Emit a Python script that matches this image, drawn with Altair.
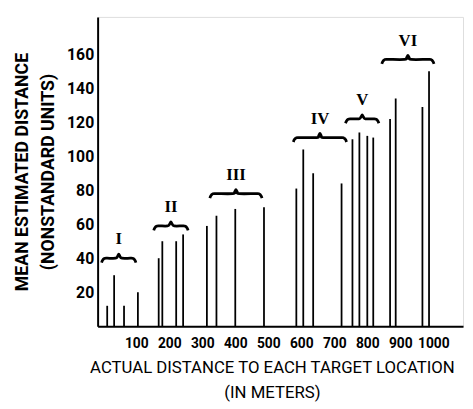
import altair as alt
import pandas as pd

# --- data ---
bar_x = [12, 33, 63, 105, 168, 179, 221, 242, 314, 343, 400, 487,
         585, 606, 636, 722, 755, 776, 800, 818, 869, 886, 967, 987]
bar_y = [12, 30, 12, 20, 40, 50, 50, 54, 59, 65, 69, 70,
         81, 104, 90, 84, 110, 114, 112, 111, 122, 134, 129, 150]

group_labels = ["I", "II", "III", "IV", "V", "VI"]
brace_start = [-5, 153, 323, 576, 734, 844]
brace_end = [99, 257, 481, 737, 835, 1002]
brace_level = [40, 59, 78, 111, 122, 157]

x_ticks = [100, 200, 300, 400, 500, 600, 700, 800, 900, 1000]
y_ticks = [20, 40, 60, 80, 100, 120, 140, 160]

bars = pd.DataFrame({"x": bar_x, "y": bar_y})

# brace outline built from the group ranges
rows = []
for g, x0, x1, yb in zip(group_labels, brace_start, brace_end, brace_level):
    xm = (x0 + x1) / 2
    pts = [(x0, yb - 2.6), (x0 + 3, yb - 1.2), (x0 + 8, yb - 0.2), (x0 + 16, yb),
           (xm - 10, yb), (xm - 4, yb + 1.0), (xm, yb + 2.4),
           (xm + 4, yb + 1.0), (xm + 10, yb),
           (x1 - 16, yb), (x1 - 8, yb - 0.2), (x1 - 3, yb - 1.2), (x1, yb - 2.6)]
    for i, (px, py) in enumerate(pts):
        rows.append({"g": g, "i": i, "x": px, "y": py})
braces = pd.DataFrame(rows)
labels = pd.DataFrame({"g": group_labels,
                       "x": [(a + b) / 2 for a, b in zip(brace_start, brace_end)],
                       "y": brace_level})

SANS = "Roboto, DejaVu Sans, sans-serif"

xscale = alt.Scale(domain=[-17, 1090], nice=False, zero=False)
yscale = alt.Scale(domain=[0, 182], nice=False)

rules = alt.Chart(bars).mark_rule(color="black", strokeWidth=1.8).encode(
    x=alt.X("x:Q", scale=xscale,
            axis=alt.Axis(values=x_ticks, format="d",
                          title=["ACTUAL DISTANCE TO EACH TARGET LOCATION", "(IN METERS)"],
                          grid=False, ticks=False, domainColor="black", domainWidth=2,
                          labelFont=SANS, labelFontSize=14, labelColor="black", labelPadding=11,
                          labelFontWeight="bold",
                          titleFont=SANS, titleFontSize=17, titleFontWeight="normal",
                          titleColor="black", titlePadding=9, titleLineHeight=25,
                          titleX=177,
                          labelOverlap=False, labelFlush=False)),
    y=alt.Y("y:Q", scale=yscale,
            axis=alt.Axis(values=y_ticks, title=["MEAN ESTIMATED DISTANCE", "(NONSTANDARD UNITS)"],
                          grid=False, ticks=False, domainColor="black", domainWidth=2,
                          labelFont=SANS, labelFontSize=16, labelFontWeight="bold",
                          labelColor="black", labelPadding=4,
                          titleFont=SANS, titleFontSize=18, titleFontWeight="bold",
                          titleColor="black", titlePadding=9, titleLineHeight=27,
                          labelOverlap=False)),
    y2=alt.datum(0),
)

brace_lines = alt.Chart(braces).mark_line(color="black", strokeWidth=2.8, interpolate="cardinal").encode(
    x=alt.X("x:Q", scale=xscale),
    y=alt.Y("y:Q", scale=yscale),
    detail="g:N",
    order="i:O",
)

numerals = alt.Chart(labels).mark_text(
    font="Liberation Serif, DejaVu Serif, serif", fontSize=17, fontWeight="bold",
    color="black", baseline="bottom", dy=-10,
).encode(
    x=alt.X("x:Q", scale=xscale),
    y=alt.Y("y:Q", scale=yscale),
    text="g:N",
)

chart = alt.layer(rules, brace_lines, numerals).properties(
    width=371, height=314,
    autosize=alt.AutoSizeParams(type="none"),
    padding={"left": 91, "top": 6, "right": 2, "bottom": 80},
).configure_view(stroke=None).configure(background="white")

chart.save("out.html", embed_options={"renderer": "svg", "actions": False})
